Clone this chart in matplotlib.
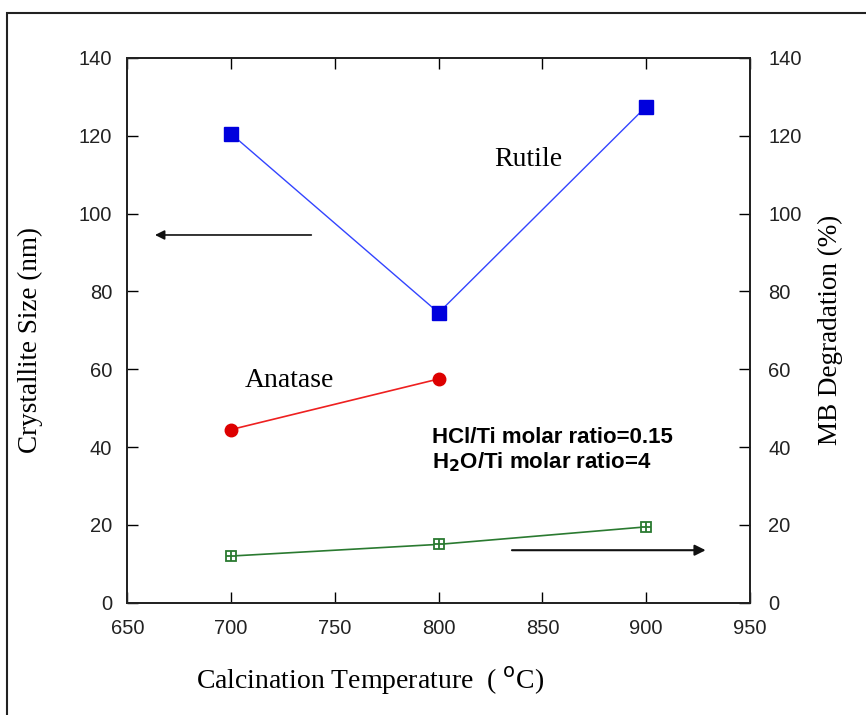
import matplotlib.pyplot as plt
from matplotlib.patches import Rectangle

temps = [700, 800, 900]
rutile = [120.5, 74.5, 127.5]
anatase_temps = [700, 800]
anatase = [44.5, 57.5]
mb_degradation = [12.0, 15.0, 19.5]

xticks = [650, 700, 750, 800, 850, 900, 950]
yticks = [0, 20, 40, 60, 80, 100, 120, 140]

serif = ['Liberation Serif', 'DejaVu Serif']
sans = ['Liberation Sans', 'DejaVu Sans']

fig = plt.figure(figsize=(8.66, 7.15), dpi=100)
fig.patches.append(Rectangle((0.008, -0.05), 1.1, 1.032, transform=fig.transFigure,
                             fill=False, edgecolor='#222222', linewidth=1.5))

ax = fig.add_axes([0.147, 0.157, 0.719, 0.762])
ax2 = ax.twinx()

ax.plot(temps, rutile, color='#3344ff', linewidth=1, marker='s', markersize=9.5,
        markerfacecolor='#0000dd', markeredgecolor='#0000dd', zorder=3)
ax.plot(anatase_temps, anatase, color='#ee2020', linewidth=1.2, marker='o', markersize=9,
        markerfacecolor='#dd0000', markeredgecolor='#dd0000', zorder=3)
ax2.plot(temps, mb_degradation, color='#2a7a30', linewidth=1.2, marker='s', markersize=7.5,
         markerfacecolor='white', markeredgecolor='#2a7a30', markeredgewidth=1.3, zorder=3)
ax2.plot(temps, mb_degradation, linestyle='none', marker='+', markersize=7.5,
         color='#2a7a30', markeredgewidth=1.3, zorder=4)

ax.set_xlim(650, 950)
ax.set_ylim(0, 140)
ax2.set_ylim(0, 140)
ax.set_xticks(xticks)
ax.set_yticks(yticks)
ax2.set_yticks(yticks)

for a in (ax, ax2):
    for s in a.spines.values():
        s.set_linewidth(1.3)
        s.set_color('#222222')
ax.tick_params(axis='x', direction='in', length=8, width=1, top=True, labelsize=14.5, pad=12)
ax.tick_params(axis='y', direction='in', length=8, width=1, labelsize=14.5, pad=11)
ax2.tick_params(axis='y', direction='in', length=8, width=1, labelsize=14.5, pad=13)
for lab in ax.get_xticklabels() + ax.get_yticklabels() + ax2.get_yticklabels():
    lab.set_family(sans)
    lab.set_color('#222222')

ax.set_xlabel('Calcination Temperature  ( $^{\\mathrm{o}}$C)', family=serif, fontsize=20)
ax.xaxis.set_label_coords(0.39, -0.114)
ax.set_ylabel('Crystallite Size (nm)', family=serif, fontsize=19.5)
ax.yaxis.set_label_coords(-0.135, 0.483)
ax2.set_ylabel('MB Degradation (%)', family=serif, fontsize=19.5, labelpad=12)

ax.text(843, 114, 'Rutile', family=serif, fontsize=20, ha='center', va='center')
ax.text(728, 57, 'Anatase', family=serif, fontsize=20, ha='center', va='center')
ax.text(797, 42.5, 'HCl/Ti molar ratio=0.15', family=sans,
        fontsize=16, fontweight='bold', ha='left', va='center')
ax.text(797, 36, 'H$_\\mathbf{2}$O/Ti molar ratio=4', family=sans,
        fontsize=16, fontweight='bold', ha='left', va='center')

ax.annotate('', xy=(662, 94.5), xytext=(740, 94.5),
            arrowprops=dict(arrowstyle='-|>', color='#111111', lw=1.2, mutation_scale=14))
ax.annotate('', xy=(930, 13.5), xytext=(834, 13.5),
            arrowprops=dict(arrowstyle='-|>', color='#111111', lw=1.5, mutation_scale=16))

fig.savefig('out.png', dpi=100)
